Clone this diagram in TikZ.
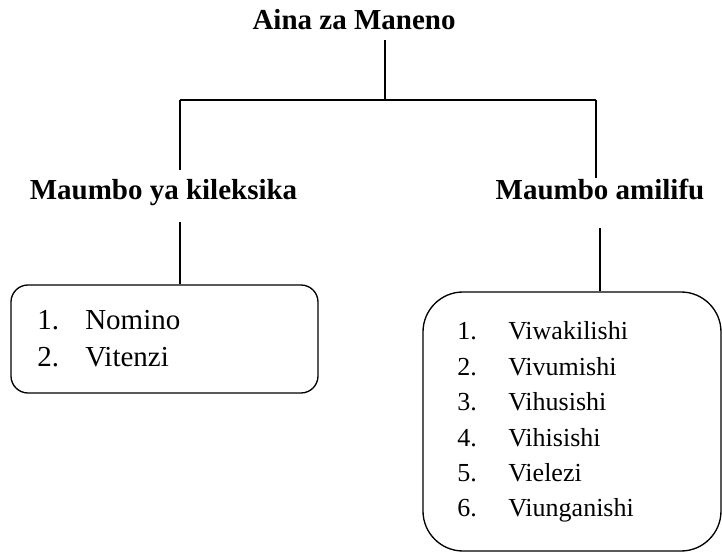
\documentclass[tikz,border=0pt]{standalone}
\usepackage{fontspec}
\setmainfont{Liberation Serif}
\begin{document}
\begin{tikzpicture}[x=0.75pt,y=-0.75pt]
	 \tikzstyle{heading}=[font=\fontsize{21.75}{26}\selectfont\bfseries,inner sep=0pt,text height=16.3pt,text depth=5.45pt,anchor=base]
	 \tikzstyle{listbox}=[draw,line width=1pt,rounded corners=12.75pt,inner sep=0pt]
	 \tikzstyle{item}=[inner sep=0pt,anchor=base west]
	 \tikzstyle{edge}=[draw,line width=1pt,-]
	 \useasboundingbox (0,0) rectangle (722,552);
	 \node[heading] (aina) at (354,30) {Aina za Maneno};
	 \node[heading] (kileksika) at (163.5,200) {Maumbo ya kileksika};
	 \node[heading] (amilifu) at (600,200) {Maumbo amilifu};
	 \coordinate (j0) at (385,100);
	 \coordinate (jl) at (180,100);
	 \coordinate (jr) at (596,100);
	 \node[listbox,minimum width=230.25pt,minimum height=81pt] (lbox) at (164.5,339) {};
	 \node[listbox,rounded corners=30pt,minimum width=223.5pt,minimum height=194.25pt] (rbox) at (572,421.5) {};
	 \foreach \w [count=\i] in {Nomino,Vitenzi} {
	 	\node[item,font=\fontsize{21.75}{26}\selectfont] (ln\i) at (37,293+37*\i) {\i.};
	 	\node[item,font=\fontsize{21.75}{26}\selectfont] (lw\i) at (85,293+37*\i) {\w};
	 }
	 \foreach \w [count=\i] in {Viwakilishi,Vivumishi,Vihusishi,Vihisishi,Vielezi,Viunganishi} {
	 	\node[item,font=\fontsize{19.5}{24}\selectfont] (rn\i) at (457,304.6+35.4*\i) {\i.};
	 	\node[item,font=\fontsize{19.5}{24}\selectfont] (rw\i) at (508,304.6+35.4*\i) {\w};
	 }
	 \draw[edge,shorten <=2pt] (aina.south -| j0) -- (j0);
	 \draw[edge] (jl) -- (jr);
	 \draw[edge,shorten >=6.2pt] (jl) -- (kileksika.north -| jl);
	 \draw[edge] (jr) -- (amilifu.north -| jr);
	 \draw[edge,shorten <=11pt] (kileksika.south -| jl) -- (lbox.north -| jl);
	 \draw[edge,shorten <=15.5pt] (amilifu.south) -- (amilifu.south |- rbox.north);
\end{tikzpicture}
\end{document}
